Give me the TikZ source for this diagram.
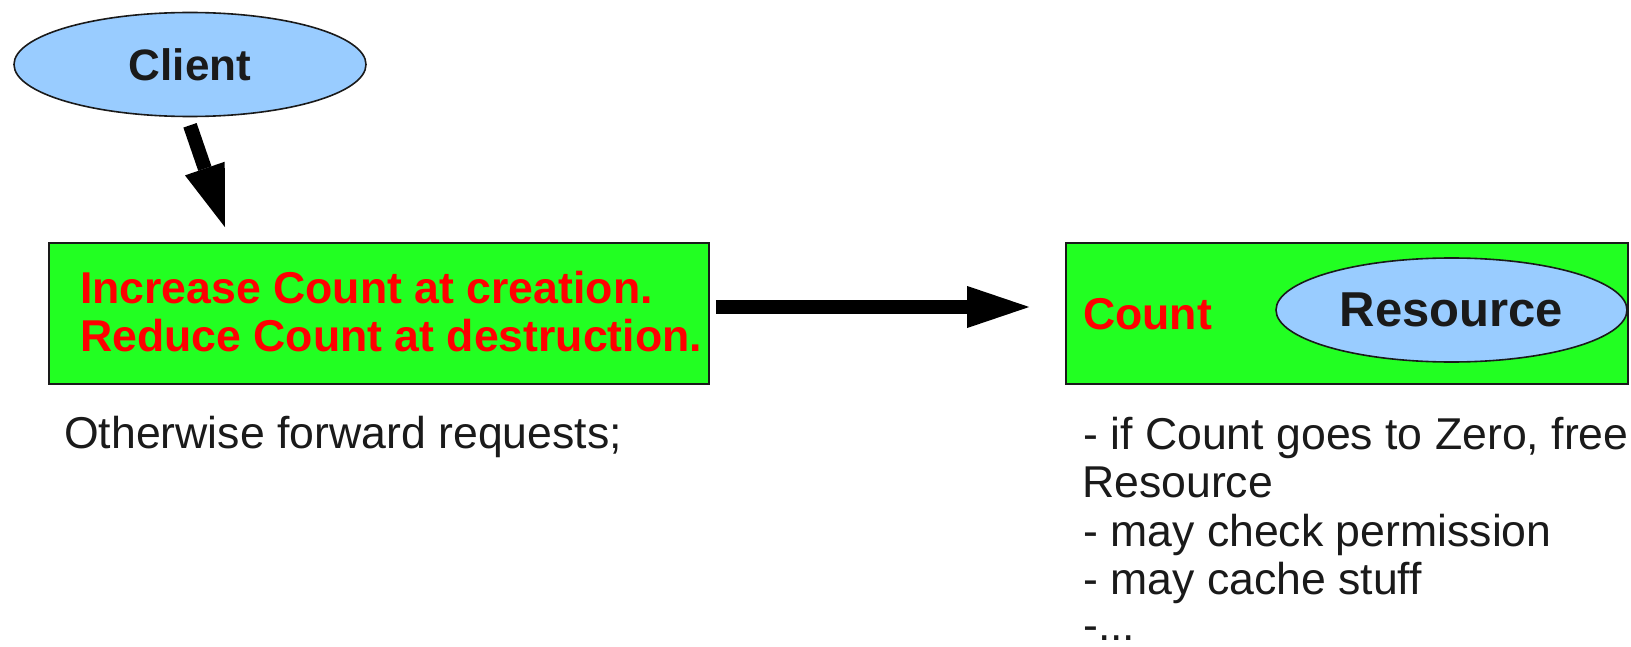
\documentclass[tikz,border=0pt]{standalone}
\usepackage{fontspec}
\setmainfont{Liberation Sans}
\usetikzlibrary{shapes.geometric,arrows.meta}
\definecolor{boxgreen}{HTML}{22FF22}
\definecolor{bubble}{HTML}{99CCFF}
\definecolor{alert}{HTML}{FF0000}
\definecolor{ink}{HTML}{1A1A1A}
\begin{document}
\begin{tikzpicture}[x=1pt,y=-1pt,
  gbox/.style={draw=ink, line width=1.6pt, fill=boxgreen, rectangle, inner sep=0pt},
  oval/.style={draw=ink, line width=1.6pt, fill=bubble, ellipse, inner sep=0pt,
    text=ink, font=\bfseries\fontsize{44}{48}\selectfont},
  redtxt/.style={text=alert, inner sep=0pt, font=\bfseries\fontsize{44.6}{48}\selectfont},
  note/.style={text=ink, inner sep=0pt, font=\fontsize{44.6}{48}\selectfont},
  bigarrow/.style={line width=14pt, draw=black,
    -{Triangle[length=62pt,width=42pt,line width=0pt]}}]
\useasboundingbox (0,0) rectangle (1631,647);

% client
\node[oval, minimum width=352pt, minimum height=104pt] (client) at (190,64.5) {Client};

% proxy box with its description
\node[gbox, minimum width=660pt, minimum height=141pt] (front) at (379,313.5) {};
\node[redtxt, anchor=base west] (inc) at (80,303) {Increase Count at creation.};
\node[redtxt, anchor=base west] (dec) at (80,351) {Reduce Count at destruction.};
\node[note, anchor=base west] (fwd) at (64,448) {Otherwise forward requests;};

% shared object box
\node[gbox, minimum width=562pt, minimum height=141pt] (back) at (1347,313.5) {};
\node[redtxt, anchor=base west] (cnt) at (1083,329) {Count};
\node[oval, minimum width=351pt, minimum height=104pt,
  font=\bfseries\fontsize{49}{52}\selectfont] (res) at (1451.5,310) {Resource};

% notes under the shared object
\node[note, anchor=base west] (n1) at (1083,449) {- if Count goes to Zero, free};
\node[note, anchor=base west] (n2) at (1082,497.5) {Resource};
\node[note, anchor=base west] (n3) at (1083,546) {- may check permission};
\node[note, anchor=base west] (n4) at (1083,594.5) {- may cache stuff};
\node[note, anchor=base west] (n5) at (1083,640) {-...};

% connectors
\draw[bigarrow] ([yshift=-8pt]client.south) -- ([xshift=-154pt,yshift=15pt]front.north);
\draw[bigarrow, shorten <=6pt, shorten >=36pt]
  ([yshift=6.5pt]front.east) -- ([yshift=6.5pt]back.west);
\end{tikzpicture}
\end{document}
